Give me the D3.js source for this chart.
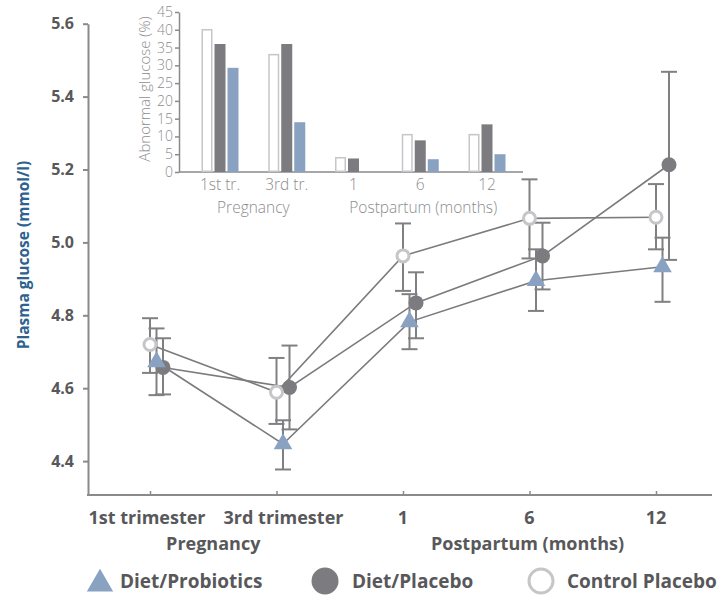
<!DOCTYPE html>
<html>
<head>
<meta charset="utf-8">
<script src="https://cdn.jsdelivr.net/npm/d3@7"></script>
<style>
  html, body { margin: 0; padding: 0; background: #fff; }
  svg { display: block; }
  text { font-family: "Open Sans", "DejaVu Sans", sans-serif; }
</style>
</head>
<body>
<svg id="chart" width="726" height="596"></svg>
<script>
// ---------- DATA ----------
const categories = ["1st trimester", "3rd trimester", "1", "6", "12"];
const yTicks = [4.4, 4.6, 4.8, 5.0, 5.2, 5.4, 5.6];

const probioticsMean = [4.672, 4.447, 4.782, 4.895, 4.933];
const probioticsLow  = [4.581, 4.377, 4.707, 4.812, 4.837];
const probioticsHigh = [4.764, 4.512, 4.858, 4.981, 5.013];

const placeboMean = [4.657, 4.602, 4.834, 4.963, 5.213];
const placeboLow  = [4.583, 4.487, 4.737, 4.871, 4.952];
const placeboHigh = [4.737, 4.717, 4.918, 5.054, 5.468];

const controlMean = [4.720, 4.589, 4.963, 5.066, 5.069];
const controlLow  = [4.642, 4.502, 4.867, 4.956, 4.981];
const controlHigh = [4.792, 4.683, 5.052, 5.173, 5.160];

const insetCategories = ["1st tr.", "3rd tr.", "1", "6", "12"];
const insetTicks = [0, 5, 10, 15, 20, 25, 30, 35, 40, 45];
const insetControl    = [40, 33, 4, 10.5, 10.5];
const insetPlacebo    = [36, 36, 3.8, 8.9, 13.4];
const insetProbiotics = [29.3, 14, 0, 3.6, 5.0];

const legendLabels = ["Diet/Probiotics", "Diet/Placebo", "Control Placebo"];

// ---------- STYLE ----------
const C = {
  axis: "#8a8a8d",
  label: "#58585b",
  title: "#2d6190",
  line: "#7b7b7e",
  dark: "#7c7c80",
  blue: "#8aa2c1",
  open: "#c6c6c8",
  insetText: "#8c8c8e"
};

const svg = d3.select("#chart");

// ---------- MAIN CHART ----------
const x = d3.scalePoint().domain(categories).range([150, 656]);
const y = d3.scaleLinear().domain([4.307, 5.6]).range([495, 23.7]);
const axisLeftX = 88, axisRightX = 712, axisBottomY = 495;

// y axis
const gy = svg.append("g").attr("transform", `translate(${axisLeftX},0)`)
  .call(d3.axisLeft(y).tickValues(yTicks).tickFormat(d3.format(".1f"))
    .tickSize(5).tickSizeOuter(0).tickPadding(9));
gy.select(".domain").attr("stroke", C.axis).attr("stroke-width", 2);
gy.selectAll(".tick line").attr("stroke", C.axis).attr("stroke-width", 2);
gy.selectAll(".tick text").attr("fill", C.label)
  .style("font-size", "16px").style("font-weight", "bold")
  .style("font-family", '"Open Sans", sans-serif');

// x axis line
svg.append("line").attr("x1", axisLeftX - 1).attr("x2", axisRightX)
  .attr("y1", axisBottomY).attr("y2", axisBottomY)
  .attr("stroke", C.axis).attr("stroke-width", 2);
const gx = svg.append("g").attr("transform", `translate(0,${axisBottomY})`)
  .call(d3.axisBottom(x).tickSize(-4).tickFormat(""));
gx.select(".domain").remove();
gx.selectAll(".tick line").attr("stroke", C.axis).attr("stroke-width", 1.5);

// x labels
const xLabelOffsets = [-3, 7, 0, 0, 0];
svg.append("g").selectAll("text").data(categories).join("text")
  .attr("x", (d, i) => x(d) + xLabelOffsets[i]).attr("y", 524)
  .attr("text-anchor", "middle").attr("fill", C.label)
  .style("font-size", "18px").style("font-weight", "bold")
  .text(d => d);
svg.append("text").attr("x", (x(categories[0]) + x(categories[1])) / 2).attr("y", 550)
  .attr("text-anchor", "middle").attr("fill", C.label)
  .style("font-size", "18px").style("font-weight", "bold").text("Pregnancy");
svg.append("text").attr("x", x(categories[3]) - 2).attr("y", 550)
  .attr("text-anchor", "middle").attr("fill", C.label)
  .style("font-size", "18px").style("font-weight", "bold").text("Postpartum (months)");

// y title
svg.append("text").attr("transform", "translate(29,255) rotate(-90)")
  .attr("text-anchor", "middle").attr("fill", C.title)
  .style("font-size", "15.5px").style("font-weight", "bold")
  .text("Plasma glucose (mmol/l)");

// series
const series = [
  { key: "control", mean: controlMean, low: controlLow, high: controlHigh, dx: 0 },
  { key: "probiotics", mean: probioticsMean, low: probioticsLow, high: probioticsHigh, dx: 6.5 },
  { key: "placebo", mean: placeboMean, low: placeboLow, high: placeboHigh, dx: 13 }
];

const lineGen = d3.line().x(d => d.x).y(d => d.y);
series.forEach(s => {
  s.pts = categories.map((c, i) => ({ x: x(c) + s.dx, y: y(s.mean[i]), lo: y(s.low[i]), hi: y(s.high[i]) }));
});

// lines
series.forEach(s => {
  svg.append("path").datum(s.pts).attr("d", lineGen)
    .attr("fill", "none").attr("stroke", C.line).attr("stroke-width", 1.6);
});

// error bars
series.forEach(s => {
  const g = svg.append("g").attr("stroke", "#808083").attr("stroke-width", 2);
  s.pts.forEach(p => {
    g.append("line").attr("x1", p.x).attr("x2", p.x).attr("y1", p.lo).attr("y2", p.hi);
    g.append("line").attr("x1", p.x - 8).attr("x2", p.x + 8).attr("y1", p.lo).attr("y2", p.lo);
    g.append("line").attr("x1", p.x - 8).attr("x2", p.x + 8).attr("y1", p.hi).attr("y2", p.hi);
  });
});

// markers
const byKey = k => series.find(s => s.key === k);
svg.append("g").selectAll("circle").data(byKey("placebo").pts).join("circle")
  .attr("cx", d => d.x).attr("cy", d => d.y).attr("r", 7.5).attr("fill", C.dark);
const tri = d3.symbol().type(d3.symbolTriangle).size(150);
svg.append("g").selectAll("path").data(byKey("probiotics").pts).join("path")
  .attr("transform", d => `translate(${d.x},${d.y})`).attr("d", tri).attr("fill", C.blue);
svg.append("g").selectAll("circle").data(byKey("control").pts).join("circle")
  .attr("cx", d => d.x).attr("cy", d => d.y).attr("r", 6).attr("fill", "#fff")
  .attr("stroke", C.open).attr("stroke-width", 3);

// legend
const lg = svg.append("g");
const legendX = [100, 325, 541];
lg.append("path").attr("transform", `translate(${legendX[0]},584)`)
  .attr("d", d3.symbol().type(d3.symbolTriangle).size(300)).attr("fill", C.blue);
lg.append("circle").attr("cx", legendX[1]).attr("cy", 581).attr("r", 13.5).attr("fill", C.dark);
lg.append("circle").attr("cx", legendX[2]).attr("cy", 581).attr("r", 12).attr("fill", "#fff")
  .attr("stroke", C.open).attr("stroke-width", 3);
lg.selectAll("text").data(legendLabels).join("text")
  .attr("x", (d, i) => legendX[i] + [20, 27, 26][i]).attr("y", 588)
  .attr("fill", C.label).style("font-size", "19px").style("font-weight", "bold")
  .text(d => d);

// ---------- INSET ----------
const ix = d3.scalePoint().domain(insetCategories).range([220, 487]);
const iy = d3.scaleLinear().domain([0, 45]).range([172, 12]);
const insetLeft = 179, insetRight = 523;
const barW = 11, barStep = 13;

const giy = svg.append("g").attr("transform", `translate(${insetLeft},0)`)
  .call(d3.axisLeft(iy).tickValues(insetTicks).tickSize(4).tickSizeOuter(0).tickPadding(2));
giy.select(".domain").attr("stroke", C.axis).attr("stroke-width", 1.5);
giy.selectAll(".tick line").attr("stroke", C.axis).attr("stroke-width", 1.5);
giy.selectAll(".tick text").attr("fill", C.insetText)
  .style("font-size", "14px").style("font-weight", "300");

svg.append("line").attr("x1", insetLeft).attr("x2", insetRight)
  .attr("y1", iy(0)).attr("y2", iy(0)).attr("stroke", C.axis).attr("stroke-width", 1.5);

const insetSeries = [
  { vals: insetControl, off: -barStep, fill: "#fff", stroke: C.open },
  { vals: insetPlacebo, off: 0, fill: C.dark, stroke: "none" },
  { vals: insetProbiotics, off: barStep, fill: C.blue, stroke: "none" }
];
insetSeries.forEach(s => {
  svg.append("g").selectAll("rect").data(insetCategories.map((c, i) => ({ c, v: s.vals[i] })))
    .join("rect")
    .attr("x", d => ix(d.c) + s.off - barW / 2 + (s.stroke !== "none" ? 0.75 : 0))
    .attr("width", barW - (s.stroke !== "none" ? 1.5 : 0))
    .attr("y", d => iy(d.v))
    .attr("height", d => Math.max(0, iy(0) - iy(d.v) - (s.stroke !== "none" ? 0.75 : 0)))
    .attr("fill", s.fill).attr("stroke", s.stroke).attr("stroke-width", 1.5)
    .style("display", d => d.v > 0 ? null : "none");
});

svg.append("g").selectAll("text").data(insetCategories).join("text")
  .attr("x", d => ix(d)).attr("y", 190).attr("text-anchor", "middle")
  .attr("fill", C.insetText).style("font-size", "15.5px").style("font-weight", "300")
  .text(d => d);
svg.append("text").attr("x", (ix(insetCategories[0]) + ix(insetCategories[1])) / 2).attr("y", 213)
  .attr("text-anchor", "middle").attr("fill", C.insetText)
  .style("font-size", "15.5px").style("font-weight", "300").text("Pregnancy");
svg.append("text").attr("x", ix(insetCategories[3]) + 3).attr("y", 213)
  .attr("text-anchor", "middle").attr("fill", C.insetText)
  .style("font-size", "15.5px").style("font-weight", "300").text("Postpartum (months)");
svg.append("text").attr("transform", "translate(150,89) rotate(-90)")
  .attr("text-anchor", "middle").attr("fill", C.insetText)
  .style("font-size", "15px").style("font-weight", "300").text("Abnormal glucose (%)");
</script>
</body>
</html>
